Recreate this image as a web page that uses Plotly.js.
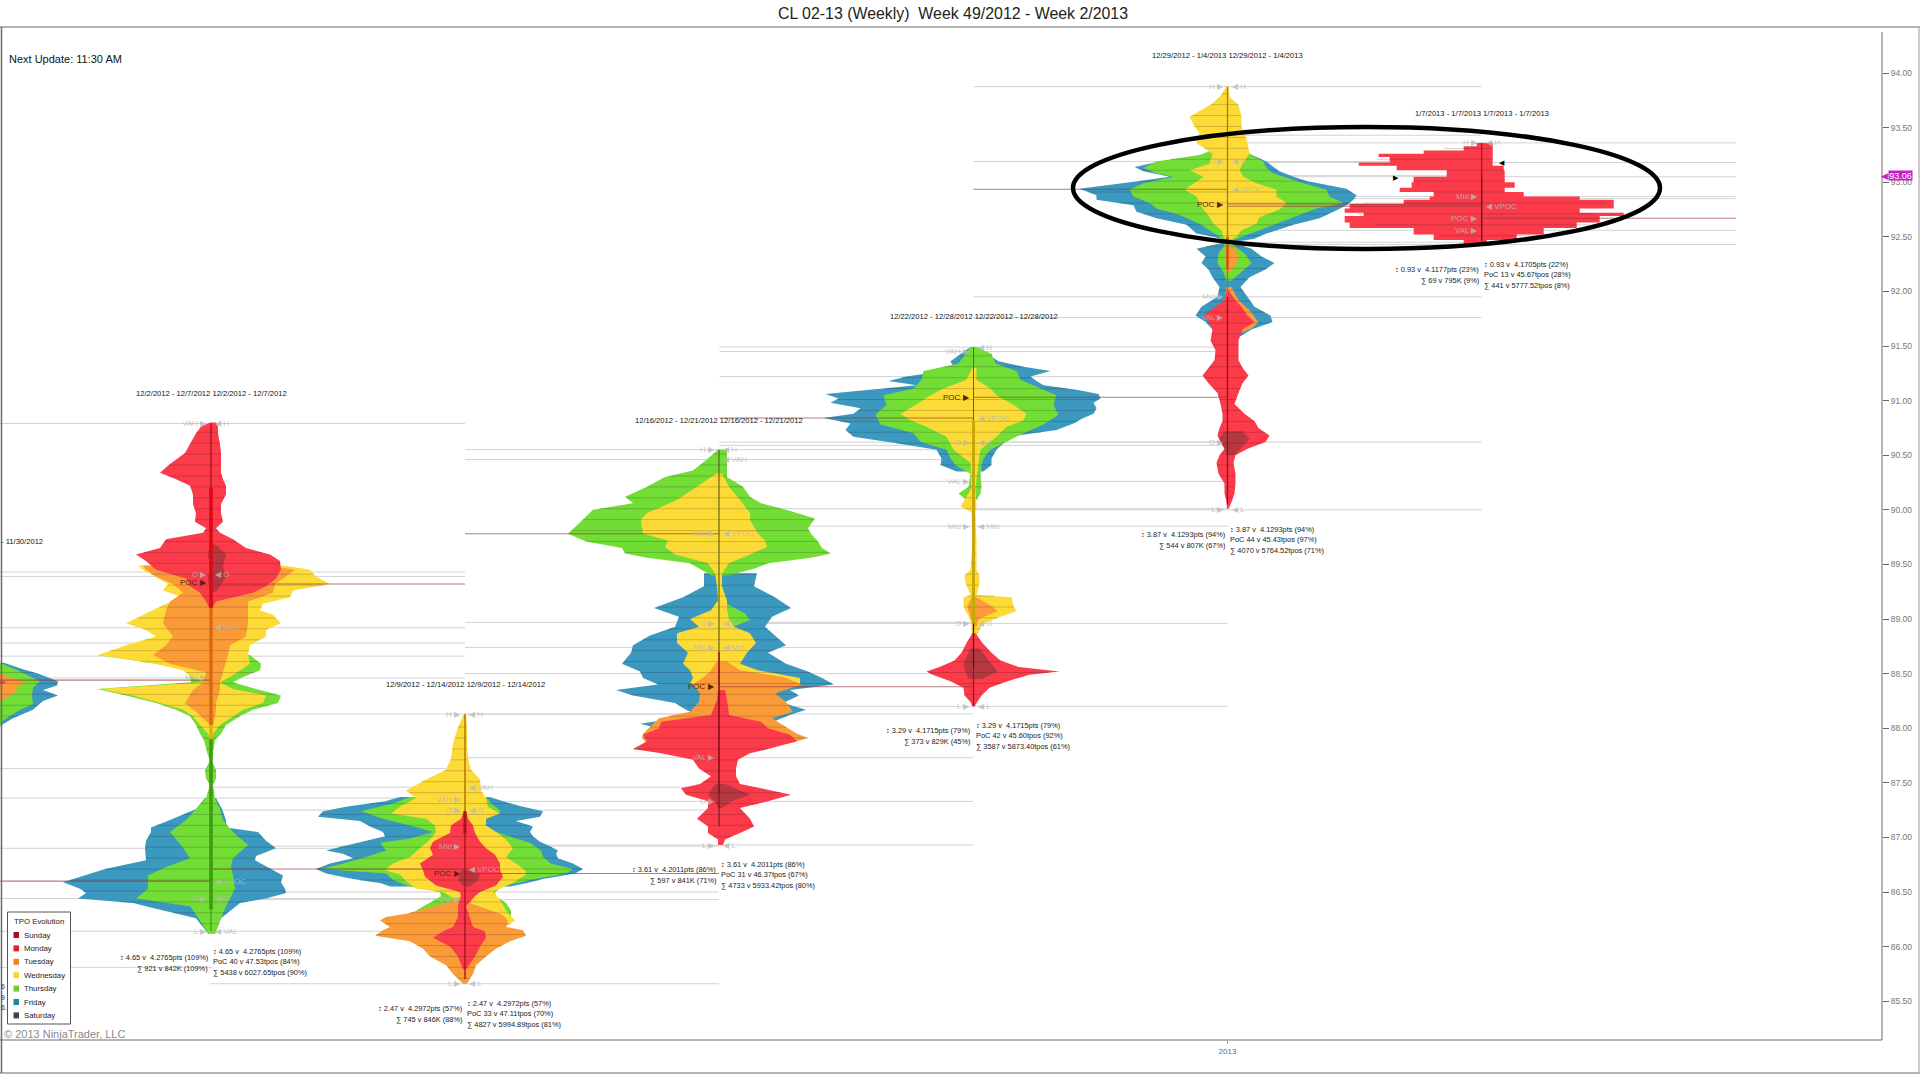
<!DOCTYPE html>
<html><head><meta charset="utf-8">
<script src="https://cdn.plot.ly/plotly-3.0.1.min.js"></script>
<style>html,body{margin:0;padding:0;background:#fff}#c{width:1920px;height:1074px}</style>
</head><body><div id="c"></div>
<script>
// Profile rows: [price, left extent, right extent]
const aFri=[[88.60,84,46],[88.54,84,65],[88.50,84,80],[88.43,84,100],[88.39,84,99],[88.35,84,85],[88.30,84,100],[88.25,84,85],[88.17,84,75],[88.09,84,55],[88.02,84,42]];
const aThu=[[88.60,84,42],[88.52,84,62],[88.43,84,82],[88.37,84,75],[88.30,84,74],[88.22,84,75],[88.17,84,62],[88.07,84,45],[88.02,84,42]];
const aTue=[[88.50,84,42],[88.42,84,67],[88.38,84,60],[88.33,84,57],[88.24,84,42]];
const aMon=[[88.44,84,42],[88.42,84,49],[88.40,84,42]];

const bFri=[[87.36,6,5],[87.26,15,11],[87.16,41,15],[87.09,60,15],[87.05,60,47],[86.97,65,55],[86.90,66,65],[86.83,65,45],[86.79,65,44],[86.71,106,60],[86.65,128,72],[86.59,148,70],[86.53,131,74],[86.49,125,75],[86.44,133,55],[86.40,78,29],[86.35,56,22],[86.26,15,10],[86.12,3,4]];
const bThu=[[88.67,114,39],[88.59,55,50],[88.53,25,49],[88.47,21,32],[88.42,20,22],[88.36,114,45],[88.30,85,70],[88.23,55,67],[88.17,35,42],[88.11,21,29],[88.03,15,15],[87.95,11,10],[87.89,7,4],[87.78,4,2],[87.70,1,1],[87.62,6,5],[87.54,5,5],[87.48,1,2],[87.36,5,4],[87.26,15,9],[87.16,25,12],[87.05,41,22],[86.93,30,37],[86.81,21,22],[86.73,45,20],[86.65,63,22],[86.53,63,24],[86.44,75,19],[86.37,21,15],[86.24,11,9],[86.12,3,4]];
const bWed=[[89.49,73,72],[89.45,68,99],[89.39,56,105],[89.32,43,119],[89.26,48,82],[89.20,28,79],[89.14,45,52],[89.08,58,49],[89.04,66,62],[88.96,85,70],[88.90,65,55],[88.84,55,55],[88.76,85,39],[88.67,113,37],[88.59,55,39],[88.53,28,29],[88.47,20,19],[88.42,5,9],[88.36,111,22],[88.30,78,55],[88.23,51,52],[88.17,28,32],[88.11,18,22],[88.03,11,9],[87.95,3,2],[87.91,1,1]];
const bTue=[[89.49,68,55],[89.45,65,84],[89.39,55,75],[89.32,38,64],[89.24,28,62],[89.16,41,37],[89.08,45,37],[88.96,48,37],[88.84,38,35],[88.76,45,19],[88.67,58,17],[88.59,41,15],[88.51,5,12],[88.42,8,9],[88.35,18,9],[88.23,26,5],[88.15,15,5],[88.03,1,2]];
const bMon=[[90.80,1,5],[90.76,10,7],[90.70,15,7],[90.60,21,9],[90.52,26,10],[90.42,41,10],[90.34,51,10],[90.28,35,12],[90.22,21,15],[90.14,18,15],[90.05,18,10],[89.97,15,10],[89.89,16,12],[89.83,5,5],[89.79,8,9],[89.73,45,22],[89.65,51,35],[89.59,75,59],[89.53,65,69],[89.45,55,70],[89.37,25,65],[89.30,21,55],[89.24,11,42],[89.16,5,5],[89.09,1,1]];
const bDark=[[89.68,1,5],[89.59,3,15],[89.48,1,12],[89.38,3,15],[89.25,1,5]];

const cFri=[[87.37,65,25],[87.33,80,38],[87.28,119,58],[87.24,142,78],[87.19,147,75],[87.15,105,51],[87.10,95,68],[87.05,82,65],[87.01,80,68],[86.96,105,75],[86.92,122,85],[86.88,139,93],[86.85,122,91],[86.81,112,93],[86.76,135,108],[86.71,149,118],[86.67,139,110],[86.62,112,78],[86.58,84,61],[86.55,75,45]];
const cThu=[[87.37,55,21],[87.31,72,26],[87.24,104,36],[87.17,82,21],[87.11,55,20],[87.05,32,31],[86.99,55,51],[86.95,85,65],[86.88,79,76],[86.82,99,78],[86.76,122,86],[86.71,144,108],[86.67,79,101],[86.61,72,65],[86.55,55,38],[86.50,25,30],[86.46,24,31],[86.40,35,41],[86.33,49,46],[86.27,12,46],[86.21,2,41]];
const cWed=[[88.13,1,1],[88.01,7,2],[87.86,12,2],[87.72,14,3],[87.62,19,6],[87.53,39,15],[87.43,59,16],[87.36,49,21],[87.28,65,23],[87.22,74,35],[87.17,39,21],[87.11,30,21],[87.05,29,31],[86.98,35,41],[86.90,45,48],[86.82,55,41],[86.76,72,51],[86.70,80,60],[86.66,65,61],[86.60,59,51],[86.53,49,35],[86.50,22,28],[86.43,9,35],[86.33,2,41],[86.24,1,50],[86.18,1,41]];
const cTue=[[86.51,2,15],[86.46,4,8],[86.40,19,5],[86.30,59,35],[86.27,79,40],[86.24,85,43],[86.18,75,41],[86.15,82,58],[86.10,90,61],[86.05,55,45],[85.98,42,31],[85.91,35,21],[85.83,19,11],[85.75,12,8],[85.66,2,2]];
const cMon=[[87.24,1,1],[87.17,4,3],[87.11,14,8],[87.04,15,10],[86.96,32,15],[86.90,35,21],[86.84,32,30],[86.76,45,35],[86.70,42,35],[86.64,40,38],[86.56,29,31],[86.50,5,15],[86.46,4,10],[86.37,7,1],[86.27,7,5],[86.18,12,8],[86.14,22,20],[86.08,32,21],[86.00,15,15],[85.91,7,10],[85.79,2,1]];
const cDark=[[86.70,4,5],[86.66,5,15],[86.61,7,13],[86.55,1,5]];

const dFri=[[89.42,15,38],[89.30,15,35],[89.20,36,56],[89.10,65,72],[89.02,40,53],[88.93,44,46],[88.85,69,56],[88.76,86,67],[88.69,88,49],[88.59,97,67],[88.52,79,89],[88.46,76,103],[88.40,61,115],[88.35,103,71],[88.30,86,80],[88.23,44,64],[88.17,33,87],[88.12,22,71],[88.04,79,49],[88.00,61,42]];
const dThu=[[90.55,1,8],[90.47,11,8],[90.36,26,8],[90.30,54,8],[90.21,72,24],[90.12,94,31],[90.06,86,42],[90.00,126,67],[89.92,135,96],[89.83,145,89],[89.78,151,92],[89.71,133,99],[89.65,97,103],[89.60,94,112],[89.56,72,92],[89.51,29,49],[89.46,19,35],[89.40,8,10]];
const dThuMid=[[89.14,1,8],[89.05,1,26],[88.99,1,31],[88.93,1,14]];
const dWed=[[90.33,3,3],[90.21,22,10],[90.09,42,21],[89.97,72,31],[89.91,78,31],[89.78,76,39],[89.72,51,46],[89.66,54,48],[89.59,44,31],[89.51,11,10],[89.42,4,3],[89.30,2,3],[89.17,1,8],[89.08,8,8],[89.00,29,10],[88.93,20,15],[88.87,42,31],[88.78,42,37],[88.69,31,28],[88.59,36,21],[88.53,29,39],[88.46,26,81],[88.41,29,81],[88.36,11,64],[88.30,19,53]];
const dTue=[[88.61,2,8],[88.53,8,21],[88.47,15,64],[88.40,26,83],[88.32,19,56],[88.24,20,67],[88.15,29,74],[88.09,60,53],[87.95,76,78],[87.91,77,89],[87.86,72,70]];
const dMon=[[88.35,1,6],[88.26,2,8],[88.12,8,10],[88.06,58,42],[88.00,60,49],[87.94,76,71],[87.88,72,78],[87.81,86,49],[87.77,58,31],[87.71,26,19],[87.63,20,17],[87.56,8,17],[87.49,19,21],[87.45,38,42],[87.39,33,72],[87.33,11,49],[87.27,11,21],[87.17,22,31],[87.10,11,35],[87.04,11,21],[86.98,1,6],[86.93,1,4]];
const dDark=[[87.49,4,6],[87.39,11,31],[87.33,4,13],[87.27,1,3]];

const eFri=[[91.49,3,3],[91.36,23,25],[91.31,20,50],[91.27,30,77],[91.22,67,57],[91.18,85,63],[91.14,57,70],[91.10,100,103],[91.06,148,125],[91.02,135,127],[90.98,143,120],[90.93,113,123],[90.88,120,120],[90.84,150,110],[90.79,123,100],[90.73,128,83],[90.67,120,37],[90.61,77,30],[90.55,37,23],[90.47,32,18],[90.41,33,18],[90.35,17,10]];
const eThu=[[91.49,3,3],[91.43,8,18],[91.34,15,22],[91.27,50,43],[91.19,52,47],[91.11,60,67],[91.05,90,83],[90.96,87,80],[90.87,98,85],[90.78,93,70],[90.70,60,50],[90.62,53,32],[90.55,27,17],[90.47,23,10],[90.40,17,8],[90.33,3,7],[90.21,5,8],[90.15,15,7],[90.09,7,3]];
const eWed=[[91.30,1,3],[91.19,7,3],[91.11,30,17],[91.05,43,23],[90.96,58,40],[90.88,73,53],[90.82,63,50],[90.76,47,33],[90.67,27,23],[90.55,20,7],[90.43,3,5],[90.20,2,2],[90.03,13,3],[89.98,2,2],[89.70,1,3],[89.45,3,3],[89.40,9,6],[89.33,8,6],[89.22,3,3],[89.20,10,38],[89.12,10,40],[89.07,8,43],[89.03,5,30],[88.96,2,10],[88.93,2,8],[88.85,2,3]];
const eTue=[[89.20,2,3],[89.12,6,18],[89.07,5,24],[89.00,2,5],[88.93,1,3]];
const eMon=[[88.87,1,2],[88.78,7,9],[88.69,12,18],[88.62,19,27],[88.56,34,45],[88.52,47,86],[88.49,41,56],[88.43,23,34],[88.37,10,16],[88.30,9,8],[88.24,3,4],[88.20,1,1]];
const eDark=[[88.73,3,6],[88.59,10,18],[88.52,8,24],[88.45,5,8]];

const fFri=[[93.26,18,22],[93.19,68,39],[93.14,93,46],[93.10,84,52],[93.05,58,66],[93.01,88,79],[92.94,148,119],[92.88,131,129],[92.84,131,126],[92.79,94,119],[92.73,91,106],[92.67,71,92],[92.61,41,66],[92.53,31,39],[92.48,4,26],[92.45,3,4],[92.39,31,24],[92.32,22,34],[92.26,26,47],[92.20,19,38],[92.13,15,22],[92.04,8,13],[91.95,10,20],[91.86,26,27],[91.78,32,43],[91.72,22,45],[91.65,15,24],[91.59,12,13]];
const fThu=[[93.30,14,19],[93.25,28,24],[93.19,71,36],[93.13,84,39],[93.08,71,46],[93.05,54,56],[92.99,84,76],[92.93,98,99],[92.87,94,102],[92.81,78,116],[92.76,71,89],[92.70,48,72],[92.62,28,49],[92.55,16,29],[92.47,3,6],[92.42,3,6],[92.35,9,17],[92.26,10,24],[92.17,4,13],[92.10,1,4]];
const fWed=[[93.875,1,1],[93.78,8,2],[93.71,17,11],[93.60,38,14],[93.51,33,14],[93.45,28,17],[93.36,31,20],[93.26,15,22],[93.17,18,15],[93.11,38,12],[93.05,24,16],[92.99,34,29],[92.93,43,49],[92.87,31,49],[92.81,28,59],[92.75,24,52],[92.68,18,32],[92.62,14,29],[92.56,6,14],[92.50,4,9],[92.47,1,2]];
const fTue=[[92.41,2,7],[92.32,3,11],[92.24,1,8],[92.17,0.5,2]];
const fTueLow=[[92.04,1,4],[91.92,3,11],[91.83,3,22],[91.72,5,31],[91.66,8,24],[91.62,3,13]];
const fMon=[[92.01,0.5,1],[91.92,3,8],[91.86,12,14],[91.78,24,20],[91.72,19,27],[91.65,15,15],[91.55,17,11],[91.46,12,11],[91.37,13,11],[91.30,19,15],[91.23,25,21],[91.16,19,15],[91.07,10,11],[90.97,7,7],[90.88,5,17],[90.81,5,27],[90.75,8,31],[90.68,10,42],[90.62,7,38],[90.56,3,20],[90.50,8,8],[90.43,11,6],[90.33,9,8],[90.24,3,8],[90.15,3,7],[90.07,1,4],[90.01,0.5,1]];
const fDark=[[90.72,3,15],[90.65,8,22],[90.56,3,13],[90.50,1,6]];

const gMon=[[93.36,5,11],[93.33,18,11],[93.29,58,11],[93.26,103,11],[93.23,92,11],[93.18,123,11],[93.15,85,11],[93.11,35,22],[93.05,68,23],[93.00,70,23],[92.95,82,33],[92.91,48,23],[92.87,52,42],[92.84,78,98],[92.80,132,132],[92.76,137,132],[92.72,118,98],[92.69,137,142],[92.63,132,118],[92.58,68,95],[92.52,48,62],[92.47,18,35],[92.43,5,5]];

// Level lines of each week
const aLevels=[85.81];
const bLevels=[90.79,89.43,89.39,88.92,88.78,88.66,88.46,87.63,87.36,86.90,86.44,86.14];
const cLevels=[88.13,87.46,87.25,86.92,86.50,86.43,85.66];
const dLevels=[90.55,90.46,88.97,88.74,88.50,88.13,87.73,87.33,86.93];
const eLevels=[91.49,91.45,91.22,90.62,90.59,90.26,90.01,89.85,88.96,88.20];
const fLevels=[93.875,93.19,91.95,91.76,90.62,90.00];
const fLevelsRightOnly=[93.43,93.06,92.45];
const gLevels=[93.36,93.18,93.05,92.87,92.85,92.56,92.43];

const weekCenters=[-42,211,465,719,973.5,1227.5,1481.7];
const pocPrices=[88.44,89.32,86.67,88.38,91.03,92.80,92.67];
const vpocPrices=[null,86.60,86.71,89.78,90.84,92.935,92.78];

const weekTitles=["","12/2/2012 - 12/7/2012 12/2/2012 - 12/7/2012","12/9/2012 - 12/14/2012 12/9/2012 - 12/14/2012","12/16/2012 - 12/21/2012 12/16/2012 - 12/21/2012","12/22/2012 - 12/28/2012 12/22/2012 - 12/28/2012","12/29/2012 - 1/4/2013 12/29/2012 - 1/4/2013","1/7/2013 - 1/7/2013 1/7/2013 - 1/7/2013"];
const statsLeft=[null,["↕ 4.65 v  4.2765pts (109%)","∑ 921 v 842K (109%)"],["↕ 2.47 v  4.2972pts (57%)","∑ 745 v 846K (88%)"],["↕ 3.61 v  4.2011pts (86%)","∑ 597 v 841K (71%)"],["↕ 3.29 v  4.1715pts (79%)","∑ 373 v 829K (45%)"],["↕ 3.87 v  4.1293pts (94%)","∑ 544 v 807K (67%)"],["↕ 0.93 v  4.1177pts (23%)","∑ 69 v 795K (9%)"]];
const statsRight=[null,["↕ 4.65 v  4.2765pts (109%)","PoC 40 v 47.53tpos (84%)","∑ 5438 v 6027.65tpos (90%)"],["↕ 2.47 v  4.2972pts (57%)","PoC 33 v 47.11tpos (70%)","∑ 4827 v 5994.89tpos (81%)"],["↕ 3.61 v  4.2011pts (86%)","PoC 31 v 46.37tpos (67%)","∑ 4733 v 5933.42tpos (80%)"],["↕ 3.29 v  4.1715pts (79%)","PoC 42 v 45.60tpos (92%)","∑ 3587 v 5873.40tpos (61%)"],["↕ 3.87 v  4.1293pts (94%)","PoC 44 v 45.43tpos (97%)","∑ 4070 v 5764.52tpos (71%)"],["↕ 0.93 v  4.1705pts (22%)","PoC 13 v 45.67tpos (28%)","∑ 441 v 5777.52tpos (8%)"]];

const leftTags=[[],[["VAH ▶",90.79],["O ▶",89.41],["POC ▶",89.33,1],["Mid ▶",88.46],["O ▶",86.44],["L ▶",86.14]],[["H ▶",88.13],["VAH ▶",87.35],["O ▶",87.25],["Mid ▶",86.92],["POC ▶",86.67,1],["VAL ▶",86.43],["L ▶",85.66]],[["H ▶",90.55],["Mid ▶",89.78],["O ▶",88.96],["Mid ▶",88.74],["POC ▶",88.38,1],["VAL ▶",87.73],["O ▶",87.33],["L ▶",86.93]],[["VAH ▶",91.45],["POC ▶",91.03,1],["O ▶",90.62],["VAL ▶",90.26],["Mid ▶",89.85],["O ▶",88.96],["L ▶",88.20]],[["H ▶",93.875],["O ▶",93.19],["POC ▶",92.80,1],["Mid ▶",91.95],["VAL ▶",91.76],["O ▶",90.62],["L ▶",90.00]],[["H ▶",93.36],["Mid ▶",92.87],["POC ▶",92.67],["VAL ▶",92.56]]];
const rightTags=[[],[["◀ H",90.79],["◀ O",89.41],["◀ VAH",88.92],["◀ VPOC",86.60],["◀ O",86.44],["◀ VAL",86.14]],[["◀ H",88.13],["◀ VAH",87.46],["◀ O",87.25],["◀ VPOC",86.71],["◀ L",85.66]],[["◀ H",90.55],["◀ VAH",90.46],["◀ VPOC",89.78],["◀ O",88.96],["◀ Mid",88.74],["◀ L",86.93]],[["◀ H",91.49],["◀ VPOC",90.84],["◀ O",90.62],["◀ Mid",89.85],["◀ O",88.96],["◀ L",88.20]],[["◀ H",93.875],["◀ O",93.19],["◀ VPOC",92.935],["◀ L",90.00]],[["◀ H",93.36],["◀ VPOC",92.78]]];

const dayNames=["Sunday","Monday","Tuesday","Wednesday","Thursday","Friday","Saturday"];
const dayKeys=["#a8101e","#e0202a","#ee8420","#f8d430","#70cc30","#2284a8","#444444"];
const TEAL="#3b98bf",GREEN="#72dd35",YELLOW="#fddb36",ORANGE="#fb9b38",RED="#fb3b4a",SHADOW="rgba(70,50,50,0.38)";

const weekLayers=[
 [[aFri,TEAL],[aThu,GREEN],[aTue,ORANGE],[aMon,RED]],
 [[bFri,TEAL],[bThu,GREEN],[bWed,YELLOW],[bTue,ORANGE],[bMon,RED],[bDark,SHADOW]],
 [[cFri,TEAL],[cThu,GREEN],[cWed,YELLOW],[cTue,ORANGE],[cMon,RED],[cDark,SHADOW]],
 [[dFri,TEAL],[dThu,GREEN],[dThuMid,GREEN],[dWed,YELLOW],[dTue,ORANGE],[dMon,RED],[dDark,SHADOW]],
 [[eFri,TEAL],[eThu,GREEN],[eWed,YELLOW],[eTue,ORANGE],[eMon,RED],[eDark,SHADOW]],
 [[fFri,TEAL],[fThu,GREEN],[fWed,YELLOW],[fTue,ORANGE],[fTueLow,ORANGE],[fMon,RED],[fDark,SHADOW]],
 [[gMon,RED,"vh"]]
];
const weekLevels=[aLevels,bLevels,cLevels,dLevels,eLevels,fLevels,gLevels];
// stems: high, low, colour, width
const weekStems=[[],
 [[90.79,90.20,"#a01018",1.2],[90.20,89.10,"#d80a14",3.5],[89.10,88.03,"#d86a10",3.5],[88.03,87.90,"#d8b010",3.5],[87.90,86.34,"#3e9a10",3.5],[86.34,86.14,"#3e9a10",1.2]],
 [[88.13,87.24,"#b07808",1.5],[87.24,87.03,"#b01018",3],[87.03,85.70,"#a01018",1.3]],
 [[90.55,88.70,"#5a5a10",1.1],[88.70,87.40,"#801018",1.6],[87.40,87.10,"#801018",1.1]],
 [[91.49,90.82,"#3e7a10",1],[90.82,88.96,"#c8a808",3],[88.96,88.55,"#402010",1.2],[88.55,88.20,"#a01018",1.2]],
 [[93.875,93.10,"#b07808",1.3],[93.10,92.50,"#a07810",1.3],[92.50,92.20,"#d0500c",2.5],[92.20,91.95,"#a07810",1.2],[91.95,90.05,"#901018",1.2]],
 [[93.36,93.07,"#901018",1],[93.07,92.47,"#901018",1.6],[92.47,92.43,"#901018",1]]
];
// text heights on screen for title, left stats, right stats of each week
const titlePx=[541,393,684,420,316,55,113];
const statLeftPx=[0,957,1008,869,730,534,269];
const statRightPx=[0,951,1003,864,725,529,264];

// axes
const PX_PER_UNIT=109.2, PX94=73, PLOT_W=1882;
const yP=px=>94-(px-PX94)/PX_PER_UNIT;
const xPaper=px=>px/PLOT_W;
const yPaper=px=>(1040-px)/1013;

const traces=[];
function lineTrace(xs,ys,color,width){
 return {type:"scatter",mode:"lines",x:xs,y:ys,line:{color:color,width:width},hoverinfo:"skip",showlegend:false,connectgaps:false};
}
const SPAN=254;
// level lines
{
 const xs=[],ys=[];
 weekLevels.forEach((lv,i)=>lv.forEach(p=>{xs.push(weekCenters[i]-SPAN,weekCenters[i]+SPAN,null);ys.push(p,p,null);}));
 fLevelsRightOnly.forEach(p=>{xs.push(weekCenters[5],weekCenters[5]+SPAN,null);ys.push(p,p,null);});
 traces.push(lineTrace(xs,ys,"#d2d2d2",1));
}
// filled layers
weekLayers.forEach((layers,i)=>{
 const c=weekCenters[i];
 layers.forEach(([rows,color,step])=>{
  const xs=[],ys=[];
  rows.forEach(r=>{xs.push(c-r[1]);ys.push(r[0]);});
  rows.slice().reverse().forEach(r=>{xs.push(c+r[2]);ys.push(r[0]);});
  traces.push({type:"scatter",mode:"lines",x:xs,y:ys,fill:"toself",fillcolor:color,line:{width:0,shape:step||"linear"},hoverinfo:"skip",showlegend:false});
 });
});
// row dividers inside the profile
function edgeAt(rows,p,k){
 for(let j=0;j<rows.length-1;j++){
  const a=rows[j],b=rows[j+1];
  if(p<=a[0]&&p>=b[0]){const t=(a[0]-p)/(a[0]-b[0]);return a[k]+(b[k]-a[k])*t;}
 }
 return -1;
}
weekLayers.forEach((layers,i)=>{
 const c=weekCenters[i],xs=[],ys=[];
 for(let n=8500;n<9500;n+=10){
  const p=(n+1)/100;let l=-1,r=-1;
  layers.forEach(([rows,color])=>{ if(color===SHADOW)return; l=Math.max(l,edgeAt(rows,p,1)); r=Math.max(r,edgeAt(rows,p,2)); });
  if(l>=0){xs.push(c-l,c+r,null);ys.push(p,p,null);}
 }
 traces.push(lineTrace(xs,ys,"rgba(30,10,30,0.28)",0.7));
});
// POC and VPOC lines
{
 const xs=[],ys=[];
 pocPrices.forEach((p,i)=>{xs.push(weekCenters[i],weekCenters[i]+SPAN,null);ys.push(p,p,null);});
 vpocPrices.forEach((p,i)=>{if(p!==null){xs.push(weekCenters[i]-SPAN,weekCenters[i],null);ys.push(p,p,null);}});
 traces.push(lineTrace(xs,ys,"rgba(150,50,50,0.65)",1.1));
}
// stems
weekStems.forEach((st,i)=>st.forEach(s=>traces.push(lineTrace([weekCenters[i],weekCenters[i]],[s[0],s[1]],s[2],s[3]))));

const FONT="Liberation Sans, Arial, sans-serif";
const TAG="rgba(185,185,185,0.8)";
const ann=[];
function txt(t,px,py,anchor,size,color,extra){
 ann.push(Object.assign({text:t,xref:"paper",yref:"y",x:xPaper(px),y:yP(py),xanchor:anchor,yanchor:"middle",showarrow:false,align:anchor,borderpad:0,font:{family:FONT,size:size,color:color}},extra||{}));
}
// week titles and stats
weekCenters.forEach((c,i)=>{
 if(weekTitles[i]) txt(weekTitles[i],c,titlePx[i],"center",7.6,"#111");
 if(statsLeft[i]) statsLeft[i].forEach((s,k)=>txt(s,c-2,statLeftPx[i]+k*11,"right",7.4,"#222"));
 if(statsRight[i]) statsRight[i].forEach((s,k)=>txt(s,c+1,statRightPx[i]+k*10.5,"left",7.4,"#222"));
 leftTags[i].forEach(t=>ann.push({text:t[0],xref:"paper",yref:"y",x:xPaper(c-3),y:t[1],xanchor:"right",yanchor:"middle",showarrow:false,borderpad:0,font:{family:FONT,size:8,color:t[2]?"#5a2408":TAG}}));
 rightTags[i].forEach(t=>ann.push({text:t[0],xref:"paper",yref:"y",x:xPaper(c+3),y:t[1],xanchor:"left",yanchor:"middle",showarrow:false,borderpad:0,font:{family:FONT,size:8,color:TAG}}));
});
txt("- 11/30/2012",0,541,"left",7.6,"#111");
txt("6",0,986,"left",7,"#333");txt("9",0,997,"left",7,"#333");txt("6.",0,1007,"left",7,"#333");
txt("Next Update: 11:30 AM",8,59,"left",11,"#111");
txt("© 2013 NinjaTrader, LLC",3,1034,"left",11,"#8a8a8a");
txt("◀",1502,162,"center",7,"#000");
txt("▶",1396,177,"center",7,"#000");
// price marker
txt("◀",1885,175.5,"center",9,"#c81ec8");
txt("93.06",1887.5,175.5,"left",9,"#ffffff",{bgcolor:"#c81ec8",width:23,height:9,align:"center"});
// legend labels
txt("TPO Evolution",13,921,"left",7.8,"#222");
dayNames.forEach((d,i)=>txt(d,23,935+i*13.4,"left",7.8,"#222"));

const shapes=[
 {type:"line",xref:"paper",yref:"paper",x0:xPaper(0),x1:xPaper(1920),y0:yPaper(27),y1:yPaper(27),line:{color:"#6a6a6a",width:1}},
 {type:"line",xref:"paper",yref:"paper",x0:xPaper(1.5),x1:xPaper(1.5),y0:yPaper(27),y1:yPaper(1073),line:{color:"#6a6a6a",width:1.5}},
 {type:"line",xref:"paper",yref:"paper",x0:xPaper(0),x1:xPaper(1920),y0:yPaper(1073),y1:yPaper(1073),line:{color:"#6a6a6a",width:1}},
 {type:"line",xref:"paper",yref:"paper",x0:xPaper(1919),x1:xPaper(1919),y0:yPaper(27),y1:yPaper(1073),line:{color:"#9a9a9a",width:1}},
 {type:"line",xref:"paper",yref:"paper",x0:xPaper(0),x1:xPaper(1882),y0:yPaper(1040),y1:yPaper(1040),line:{color:"#6a6a6a",width:1}},
 {type:"line",xref:"paper",yref:"paper",x0:xPaper(1882),x1:xPaper(1882),y0:yPaper(32),y1:yPaper(1040),line:{color:"#6a6a6a",width:1}},
 {type:"circle",xref:"paper",yref:"paper",x0:xPaper(1073),x1:xPaper(1660),y0:yPaper(127),y1:yPaper(249),line:{color:"#000",width:4.5},layer:"above"},
 {type:"rect",xref:"paper",yref:"paper",x0:xPaper(7.5),x1:xPaper(70.5),y0:yPaper(912),y1:yPaper(1024),line:{color:"#555",width:1},fillcolor:"#fff",layer:"above"}
];
dayKeys.forEach((col,i)=>shapes.push({type:"rect",xref:"paper",yref:"paper",x0:xPaper(13.5),x1:xPaper(19),y0:yPaper(932+i*13.4),y1:yPaper(938+i*13.4),line:{width:0},fillcolor:col,layer:"above"}));

const layout={
 width:1920,height:1074,autosize:false,paper_bgcolor:"#fff",plot_bgcolor:"#fff",
 margin:{l:0,r:38,t:27,b:34,pad:0},showlegend:false,hovermode:false,
 title:{text:"CL 02-13 (Weekly)  Week 49/2012 - Week 2/2013",x:953/1920,xanchor:"center",y:1-13/1074,yanchor:"middle",font:{family:FONT,size:15.9,color:"#222"}},
 xaxis:{range:[0,PLOT_W],showgrid:false,zeroline:false,showline:false,tickmode:"array",tickvals:[weekCenters[5]],ticktext:["2013"],ticks:"outside",ticklen:3,tickcolor:"#999",tickfont:{family:FONT,size:8,color:"#666"}},
 yaxis:{range:[yP(1040),yP(27)],side:"right",showgrid:false,zeroline:false,showline:false,dtick:0.5,tick0:94,tickformat:".2f",ticks:"outside",ticklen:6,tickcolor:"#666",tickfont:{family:FONT,size:8.5,color:"#777"}},
 annotations:ann,shapes:shapes
};
Plotly.newPlot("c",traces,layout,{displayModeBar:false,staticPlot:true});
</script>
</body></html>
